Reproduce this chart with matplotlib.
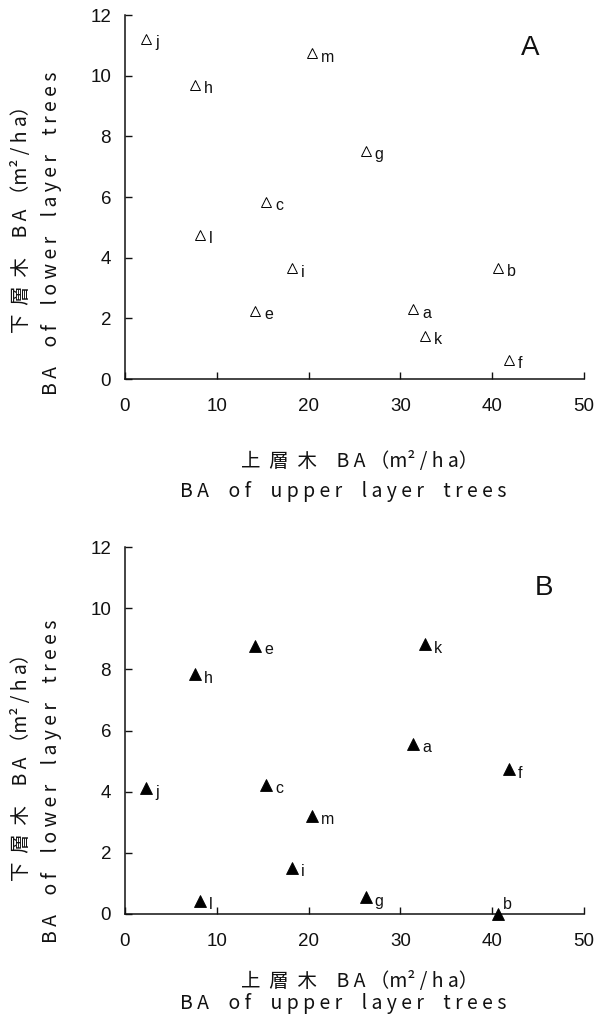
import matplotlib
matplotlib.use("Agg")
import matplotlib.pyplot as plt

# Stand labels and basal areas (m2/ha)
stands = ["a", "b", "c", "e", "f", "g", "h", "i", "j", "k", "l", "m"]
upper_ba = [31.4, 40.6, 15.4, 14.2, 41.8, 26.2, 7.6, 18.2, 2.3, 32.7, 8.2, 20.4]
lower_ba_A = [2.30, 3.67, 5.85, 2.25, 0.63, 7.53, 9.69, 3.65, 11.21, 1.42, 4.75, 10.74]
lower_ba_B = [5.56, 0.00, 4.22, 8.76, 4.73, 0.54, 7.84, 1.52, 4.11, 8.82, 0.44, 3.22]

x_ticks = [0, 10, 20, 30, 40, 50]
y_ticks = [0, 2, 4, 6, 8, 10, 12]

W, H = 597, 1025
fig = plt.figure(figsize=(W / 100, H / 100), dpi=100)

LATIN = "Liberation Sans"
CJK = ["Noto Sans CJK JP", "DejaVu Sans"]

xlab1 = "上  層  木　B A （m² / h a）"
xlab2 = "B A　o f　u p p e r　l a y e r　t r e e s"
ylab1 = "下  層  木　B A （m² / h a）"
ylab2 = "B A　o f　l o w e r　l a y e r　t r e e s"


def px_axes(left, top, right, bottom):
    return fig.add_axes([left / W, 1 - bottom / H, (right - left) / W, (bottom - top) / H])


def panel(ax, yvals, filled, tag, tag_xy, label_offsets):
    if filled:
        ax.plot(upper_ba, yvals, linestyle="none", marker="^", markersize=8.5,
                markerfacecolor="black", markeredgecolor="black",
                markeredgewidth=0.6, clip_on=False, zorder=3)
    else:
        ax.plot(upper_ba, yvals, linestyle="none", marker="^", markersize=7.5,
                markerfacecolor="white", markeredgecolor="black",
                markeredgewidth=0.7, clip_on=False, zorder=3)
    for s, xv, yv in zip(stands, upper_ba, yvals):
        off = label_offsets.get(s, (6.5, -6.0))
        ax.annotate(s, (xv, yv), xytext=off, textcoords="offset points",
                    ha="left", va="baseline", fontsize=11.5, family=LATIN,
                    color="#111111", annotation_clip=False)
    ax.set_xlim(0, 50)
    ax.set_ylim(0, 12)
    ax.set_xticks(x_ticks)
    ax.set_yticks(y_ticks)
    for side in ("top", "right"):
        ax.spines[side].set_visible(False)
    for side in ("left", "bottom"):
        ax.spines[side].set_linewidth(1.1)
        ax.spines[side].set_color("#111111")
    ax.tick_params(axis="both", direction="in", length=5, width=1.0,
                   colors="#111111", labelsize=13.5)
    ax.tick_params(axis="x", pad=14)
    ax.tick_params(axis="y", pad=10)
    for t in ax.get_xticklabels() + ax.get_yticklabels():
        t.set_family(LATIN)
    ax.text(tag_xy[0], tag_xy[1], tag, transform=fig.transFigure,
            ha="center", va="center", fontsize=20, family=LATIN, color="#111111")


axA = px_axes(125, 15, 584, 379)
panel(axA, lower_ba_A, False, "A", (530 / W, 1 - 48 / H), {})

axB = px_axes(125, 547, 584, 914)
panel(axB, lower_ba_B, True, "B", (544 / W, 1 - 588 / H), {"b": (3.5, 3.5)})

# Axis titles (Japanese / English)
for (xl1_y, xl2_y, yl1_y, yl2_y) in [(462, 492, 214, 233), (981, 1003, 762, 781)]:
    fig.text(360 / W, 1 - xl1_y / H, xlab1, ha="center", va="center",
             fontsize=14, family=CJK, color="#111111")
    fig.text(343 / W, 1 - xl2_y / H, xlab2, ha="center", va="center",
             fontsize=14, family=CJK, color="#111111")
    fig.text(22 / W, 1 - yl1_y / H, ylab1, ha="center", va="center",
             rotation=90, fontsize=14, family=CJK, color="#111111")
    fig.text(52 / W, 1 - yl2_y / H, ylab2, ha="center", va="center",
             rotation=90, fontsize=14, family=CJK, color="#111111")

fig.savefig("out.png", dpi=100)
